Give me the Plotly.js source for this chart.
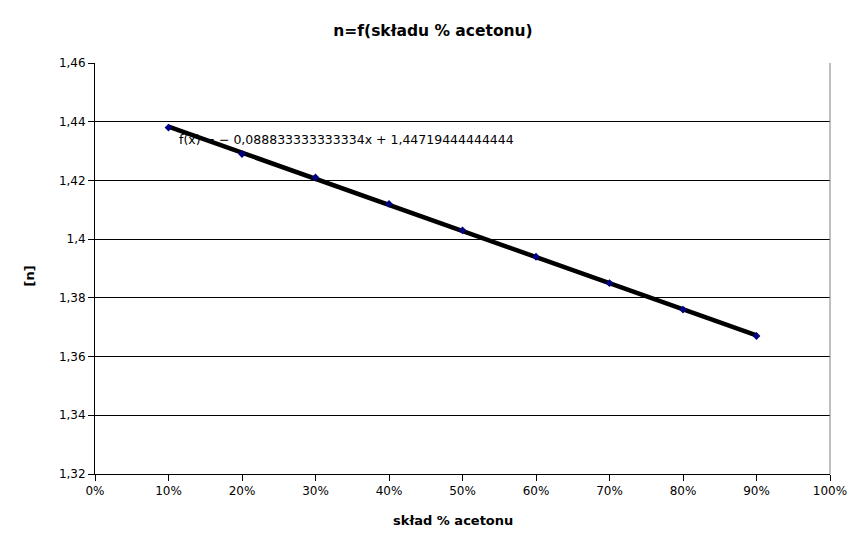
<!DOCTYPE html>
<html><head><meta charset="utf-8">
<script src="https://cdn.plot.ly/plotly-3.0.1.min.js"></script>
<style>html,body{margin:0;padding:0;background:#fff}</style>
</head><body>
<div id="chart" style="width:866px;height:548px"></div>
<script>
const acetone = [0.1, 0.2, 0.3, 0.4, 0.5, 0.6, 0.7, 0.8, 0.9];
const refractiveIndex = [1.438, 1.429, 1.421, 1.412, 1.403, 1.394, 1.385, 1.376, 1.367];
const yTickVals = [1.32, 1.34, 1.36, 1.38, 1.40, 1.42, 1.44, 1.46];
const yTickText = ['1,32', '1,34', '1,36', '1,38', '1,4', '1,42', '1,44', '1,46'];
const xTickVals = [0, 0.1, 0.2, 0.3, 0.4, 0.5, 0.6, 0.7, 0.8, 0.9, 1];
const xTickText = ['0%', '10%', '20%', '30%', '40%', '50%', '60%', '70%', '80%', '90%', '100%'];
const trendLabel = 'f(x) = − 0,088833333333334x + 1,44719444444444';
const xTitle = 'skład % acetonu';
const yTitle = '[n]';

// least-squares trendline from the data
const n = acetone.length;
const mx = acetone.reduce((a, b) => a + b, 0) / n;
const my = refractiveIndex.reduce((a, b) => a + b, 0) / n;
let sxy = 0, sxx = 0;
for (let i = 0; i < n; i++) { sxy += (acetone[i] - mx) * (refractiveIndex[i] - my); sxx += (acetone[i] - mx) ** 2; }
const slope = sxy / sxx, icpt = my - slope * mx;
const tx = [acetone[0], acetone[n - 1]];
const ty = tx.map(x => slope * x + icpt);

const font = 'DejaVu Sans, sans-serif';
const data = [
  { x: tx, y: ty, mode: 'lines', line: { color: '#000', width: 4.5 }, hoverinfo: 'skip', showlegend: false },
  { x: acetone, y: refractiveIndex, mode: 'markers', marker: { symbol: 'diamond', size: 6, color: '#000080' }, showlegend: false }
];
const layout = {
  width: 866, height: 548,
  margin: { l: 95, r: 36, t: 63, b: 74 },
  paper_bgcolor: '#fff', plot_bgcolor: '#fff',
  separators: ',.',
  font: { family: font, size: 12, color: '#000' },
  title: { text: '<b>n=f(składu % acetonu)</b>', font: { family: font, size: 15.5, color: '#000' }, x: 0.5, xanchor: 'center', y: 0.944, yanchor: 'middle' },
  xaxis: {
    range: [0, 1], tickvals: xTickVals, ticktext: xTickText,
    ticks: 'outside', ticklen: 6, tickcolor: '#000', showgrid: false, zeroline: false,
    showline: true, linecolor: '#000', linewidth: 1,
    tickfont: { family: font, size: 12, color: '#000' }
  },
  yaxis: {
    range: [1.32, 1.46], tickvals: yTickVals, ticktext: yTickText,
    ticks: 'outside', ticklen: 6, tickcolor: '#000', showgrid: true, gridcolor: '#000', gridwidth: 1, zeroline: false,
    showline: true, linecolor: '#000', linewidth: 1,
    tickfont: { family: font, size: 12, color: '#000' }
  },
  shapes: [
    { type: 'line', xref: 'paper', yref: 'paper', x0: 1, x1: 1, y0: 0, y1: 1, line: { color: '#808080', width: 1 } }
  ],
  annotations: [
    { text: trendLabel, xref: 'x', yref: 'y', x: 0.111, y: 1.4338, xanchor: 'left', yanchor: 'middle', showarrow: false, font: { family: font, size: 12.5, color: '#000' } },
    { text: '<b>' + xTitle + '</b>', xref: 'paper', yref: 'paper', x: 0.487, y: -0.114, xanchor: 'center', yanchor: 'middle', showarrow: false, font: { family: font, size: 13, color: '#000' } },
    { text: '<b>' + yTitle + '</b>', xref: 'paper', yref: 'paper', x: -0.0898, y: 0.483, xanchor: 'center', yanchor: 'middle', textangle: -90, showarrow: false, font: { family: font, size: 13, color: '#000' } }
  ]
};
Plotly.newPlot('chart', data, layout, { displayModeBar: false, staticPlot: true });
</script>
</body></html>
